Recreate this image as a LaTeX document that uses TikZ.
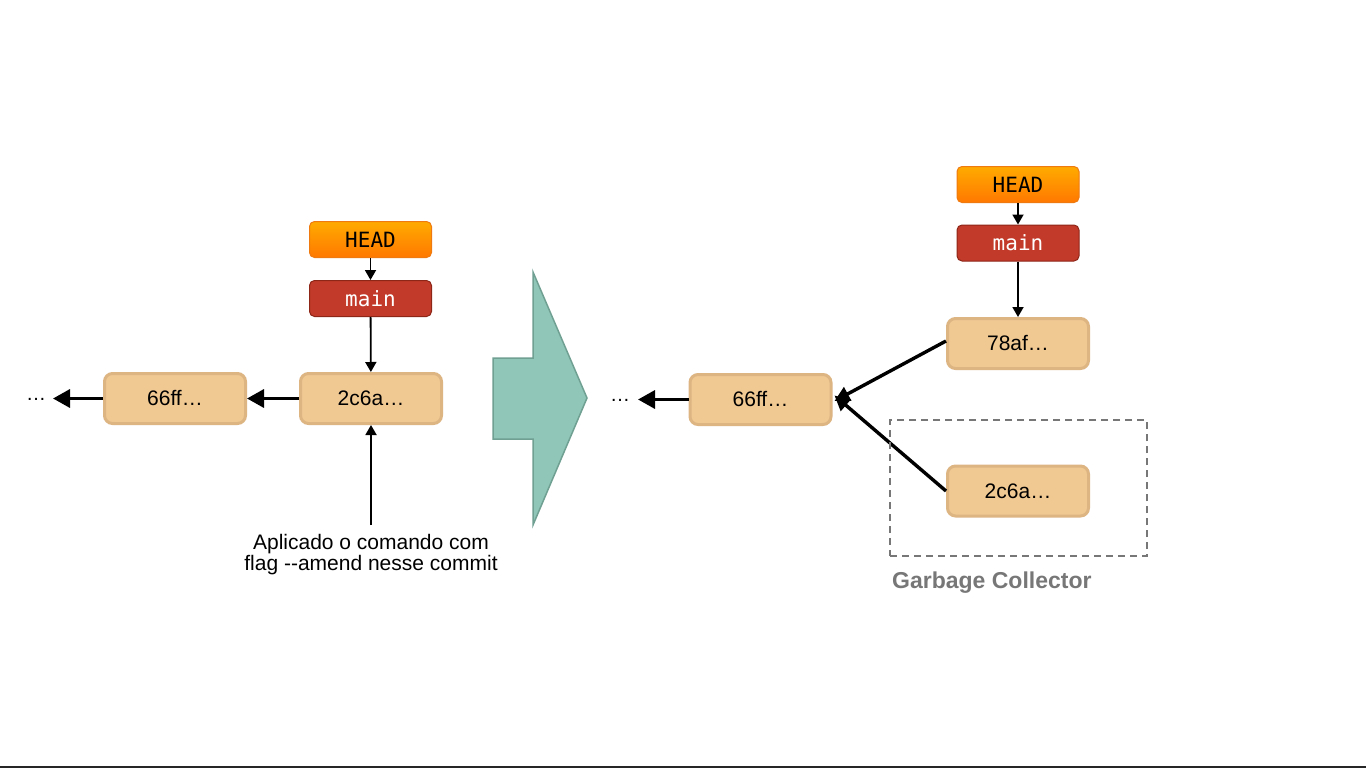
\documentclass[tikz,border=0pt]{standalone}
\usepackage{fontspec}
\setmainfont{Liberation Sans}
\newfontfamily\monof{DejaVu Sans Mono}
\usetikzlibrary{arrows.meta}
\definecolor{cfill}{HTML}{F0C892}
\definecolor{cdraw}{HTML}{DDB583}
\definecolor{htop}{HTML}{FFAB00}
\definecolor{hbot}{HTML}{FF7800}
\definecolor{hdraw}{HTML}{EE7A10}
\definecolor{mfill}{HTML}{C23A29}
\definecolor{mdraw}{HTML}{8E2618}
\definecolor{afill}{HTML}{8FC6B8}
\definecolor{adraw}{HTML}{6FA092}
\definecolor{gc}{HTML}{777777}
\tikzset{
  commit/.style={draw=cdraw, fill=cfill, line width=3pt, rounded corners=8pt,
    minimum width=141pt, minimum height=50pt, inner sep=0pt, font=\fontsize{21}{24}\selectfont},
  headbox/.style={draw=hdraw, top color=htop, bottom color=hbot, line width=1pt, rounded corners=5pt,
    minimum width=122pt, minimum height=36pt, inner sep=0pt, font=\monof\fontsize{21}{24}\selectfont},
  mainbox/.style={draw=mdraw, fill=mfill, line width=1pt, rounded corners=5pt, text=white,
    minimum width=122pt, minimum height=36pt, inner sep=0pt, font=\monof\fontsize{21}{24}\selectfont},
  thick arrow/.style={line width=3.4pt, -{Triangle[length=17pt,width=18pt]}},
  diag arrow/.style={line width=3.4pt, -{Triangle[length=15pt,width=15pt]}},
  thin arrow/.style={line width=1.8pt, -{Triangle[length=10pt,width=11pt]}},
  dotsnode/.style={anchor=base, inner sep=0pt, font=\fontsize{20}{24}\selectfont},
}
\begin{document}
\begin{tikzpicture}[x=1pt,y=-1pt]
\useasboundingbox (0,0) rectangle (1366,768);
\fill[white] (0,0) rectangle (1366,768);
\fill[black!85] (0,766) rectangle (1366,768);

% ---------- left ----------
\node[headbox] (lhead) at (370.5,239.5) {HEAD};
\node[mainbox] (lmain) at (370.5,298.5) {main};
\node[commit] (l2c6a) at (371,398.5) {2c6a…};
\node[commit] (l66ff) at (175,398.5) {66ff…};
\node[dotsnode] (ldots) at (36,400) {…};
\coordinate (lend) at (53,398.5);
\node[align=center, inner sep=0pt, font=\fontsize{21}{21}\selectfont] (note) at (371,555)
  {Aplicado o comando com\\flag -{}-amend nesse commit};
\coordinate (notetop) at (371,525);

\draw[thin arrow] (lhead) -- (lmain);
\draw[thin arrow] (lmain) -- (l2c6a);
\draw[thick arrow] (l2c6a) -- (l66ff);
\draw[thick arrow] (l66ff.west) -- (lend);
\draw[thin arrow] (notetop) -- (l2c6a.south);

% ---------- big arrow ----------
\draw[fill=afill, draw=adraw, line width=1.5pt, line join=miter]
  (533,272) -- (587,398) -- (533,525) -- (533,439) -- (493,439) -- (493,358) -- (533,358) -- cycle;

% ---------- right ----------
\node[headbox] (rhead) at (1018,184.5) {HEAD};
\node[mainbox] (rmain) at (1018,243) {main};
\node[commit] (r78af) at (1018,343.5) {78af…};
\node[commit] (r66ff) at (760.5,399.5) {66ff…};
\node[commit] (r2c6a) at (1018,491) {2c6a…};
\node[dotsnode] (rdots) at (620,401) {…};
\coordinate (rend) at (638,399.5);

\draw[thin arrow] (rhead) -- (rmain);
\draw[thin arrow] (rmain) -- (r78af);
\draw[diag arrow] ([yshift=2.5pt]r78af.west) -- ([xshift=2pt,yshift=-1.5pt]r66ff.east);
\draw[diag arrow] (r2c6a.west) -- ([xshift=2pt,yshift=4pt]r66ff.east);
\draw[thick arrow] (r66ff.west) -- (rend);

\node[draw=gc, dashed, dash pattern=on 7pt off 5pt, line width=1.8pt, minimum width=257pt, minimum height=136pt, inner sep=0pt]
  (gcbox) at (1018.5,488) {};
\node[anchor=base west, inner sep=0pt, text=gc, font=\bfseries\fontsize{23}{26}\selectfont] (gclabel)
  at (892,588) {Garbage Collector};
\end{tikzpicture}
\end{document}
